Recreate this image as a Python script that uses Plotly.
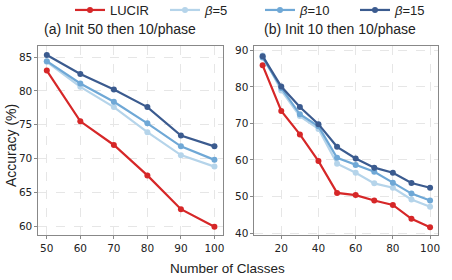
import plotly.graph_objects as go

x_left = [50, 60, 70, 80, 90, 100]
x_right = [10, 20, 30, 40, 50, 60, 70, 80, 90, 100]

names = ["LUCIR", "<i>β</i>=5", "<i>β</i>=10", "<i>β</i>=15"]
colors = ["#d62728", "#b5d4ea", "#6fa8d6", "#3b5b8f"]

left_lucir = [83.0, 75.5, 72.0, 67.5, 62.5, 59.9]
left_b5 = [84.3, 80.6, 77.6, 73.9, 70.5, 68.8]
left_b10 = [84.4, 81.1, 78.4, 75.2, 71.8, 69.8]
left_b15 = [85.3, 82.5, 80.2, 77.6, 73.4, 71.8]

right_lucir = [85.9, 73.4, 67.0, 59.7, 51.0, 50.4, 48.9, 47.7, 43.9, 41.6]
right_b5 = [88.6, 79.0, 72.0, 68.5, 59.0, 56.5, 53.6, 52.4, 49.2, 47.2]
right_b10 = [88.0, 79.7, 72.5, 69.2, 60.6, 58.6, 56.8, 53.8, 50.8, 48.9]
right_b15 = [88.4, 80.1, 74.5, 69.8, 63.6, 60.4, 57.9, 56.5, 53.7, 52.4]

left_series = [left_lucir, left_b5, left_b10, left_b15]
right_series = [right_lucir, right_b5, right_b10, right_b15]

fig = go.Figure()
for i, (name, c) in enumerate(zip(names, colors)):
    fig.add_trace(go.Scatter(x=x_left, y=left_series[i], mode="lines+markers", name=name,
                             line=dict(color=c, width=2.2), marker=dict(color=c, size=6),
                             xaxis="x", yaxis="y", legendgroup=name, showlegend=True))
for i, (name, c) in enumerate(zip(names, colors)):
    fig.add_trace(go.Scatter(x=x_right, y=right_series[i], mode="lines+markers", name=name,
                             line=dict(color=c, width=2.2), marker=dict(color=c, size=6),
                             xaxis="x2", yaxis="y2", legendgroup=name, showlegend=False))

tick_font = "DejaVu Sans"
text_font = "Liberation Sans, Arial, sans-serif"
axis_common = dict(showline=True, mirror=True, linecolor="#888888", linewidth=1,
                   ticks="outside", ticklen=3, tickcolor="#888888",
                   showgrid=True, gridcolor="#e6e6e6", griddash="dash", gridwidth=1,
                   zeroline=False, automargin=False,
                   tickfont=dict(family=tick_font, size=10.5, color="#222"))

fig.update_layout(
    width=452, height=280,
    margin=dict(l=0, r=0, t=0, b=0, autoexpand=False),
    paper_bgcolor="white", plot_bgcolor="white",
    font=dict(family=text_font, color="#222"),
    xaxis=dict(domain=[0.085, 0.493], range=[47.5, 102.5], tickvals=x_left, anchor="y", **axis_common),
    yaxis=dict(domain=[0.161, 0.836], range=[58.7, 86.65], tickvals=[60, 65, 70, 75, 80, 85], anchor="x", **axis_common),
    xaxis2=dict(domain=[0.563, 0.970], range=[5.6, 104.5], tickvals=[20, 40, 60, 80, 100], anchor="y2", **axis_common),
    yaxis2=dict(domain=[0.161, 0.836], range=[39.5, 91.2], tickvals=[40, 50, 60, 70, 80, 90], anchor="x2", **axis_common),
    legend=dict(orientation="h", xref="container", yref="container",
                x=70 / 452, xanchor="left", y=1 - 10 / 280, yanchor="middle",
                font=dict(family=text_font, size=13, color="#222"), itemwidth=30,
                entrywidth=50, entrywidthmode="pixels",
                tracegroupgap=0, bgcolor="rgba(0,0,0,0)"),
    annotations=[
        dict(text="(a) Init 50 then 10/phase", x=0.2655, y=0.896, xref="paper", yref="paper",
             showarrow=False, font=dict(family=text_font, size=14, color="#222"), xanchor="center", yanchor="middle"),
        dict(text="(b) Init 10 then 10/phase", x=0.752, y=0.896, xref="paper", yref="paper",
             showarrow=False, font=dict(family=text_font, size=14, color="#222"), xanchor="center", yanchor="middle"),
        dict(text="Number of Classes", x=227.7 / 452, y=1 - 268 / 280, xref="paper", yref="paper",
             showarrow=False, font=dict(family=text_font, size=13.5, color="#222"), xanchor="center", yanchor="middle"),
        dict(text="Accuracy (%)", x=11 / 452, y=1 - 146 / 280, xref="paper", yref="paper", textangle=-90,
             showarrow=False, font=dict(family=text_font, size=14, color="#222"), xanchor="center", yanchor="middle"),
    ],
)

fig.write_html("out.html", config={"displayModeBar": False},
               post_script="document.body.style.margin='0';document.body.style.padding='0';")
